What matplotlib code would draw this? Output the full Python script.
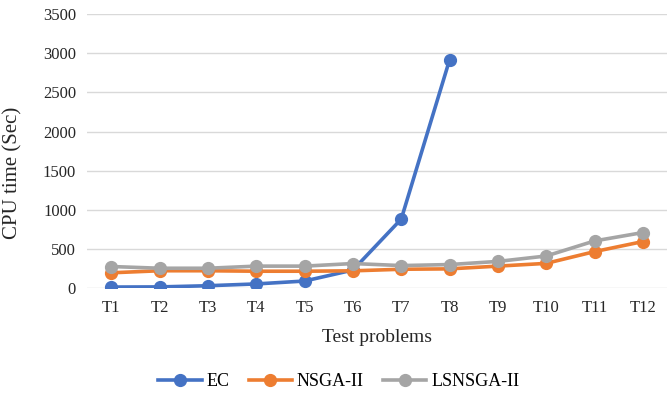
import matplotlib as mlt
mlt.use('Agg')
from matplotlib import pyplot as plt

problems = ['T1', 'T2', 'T3', 'T4', 'T5', 'T6', 'T7', 'T8', 'T9', 'T10', 'T11', 'T12']
ec = [18, 20, 35, 58, 95, 235, 885, 2915]
nsga2 = [200, 226, 226, 220, 220, 225, 245, 250, 285, 320, 470, 598]
lsnsga2 = [280, 258, 258, 285, 285, 318, 292, 305, 345, 414, 606, 713]

plt.rcParams['font.family'] = ['Liberation Serif', 'DejaVu Serif']

fig = plt.figure(figsize=(6.71, 3.99), dpi=100)
ax = fig.add_axes([0.130, 0.277, 0.864, 0.688])

x = list(range(len(problems)))
ax.plot(x[:len(ec)], ec, color='#4472C4', lw=2.6, marker='o', ms=8.5, label='EC')
ax.plot(x, nsga2, color='#ED7D31', lw=2.6, marker='o', ms=8.5, label='NSGA-II')
ax.plot(x, lsnsga2, color='#A5A5A5', lw=2.6, marker='o', ms=8.5, label='LSNSGA-II')

ax.set_xlim(-0.5, len(problems) - 0.5)
ax.set_ylim(0, 3500)
ax.set_yticks(range(0, 3501, 500))
ax.set_xticks(x)
ax.set_xticklabels(problems)
ax.grid(axis='y', color='#D9D9D9', lw=1)
ax.set_axisbelow(True)
for s in ax.spines.values():
    s.set_visible(False)
ax.tick_params(length=0, labelsize=12, colors='#262626', pad=8)

ax.set_xlabel('Test problems', fontsize=14, color='#262626', labelpad=10)
ax.set_ylabel('CPU time (Sec)', fontsize=15, color='#262626', labelpad=5)
ax.yaxis.set_label_coords(-0.112, 0.42)

ax.legend(loc='lower center', bbox_to_anchor=(0.434, -0.43), ncol=3, frameon=False,
          fontsize=13, handlelength=2.4, columnspacing=1.05, handletextpad=0.28)

plt.savefig('out.png', dpi=100)
